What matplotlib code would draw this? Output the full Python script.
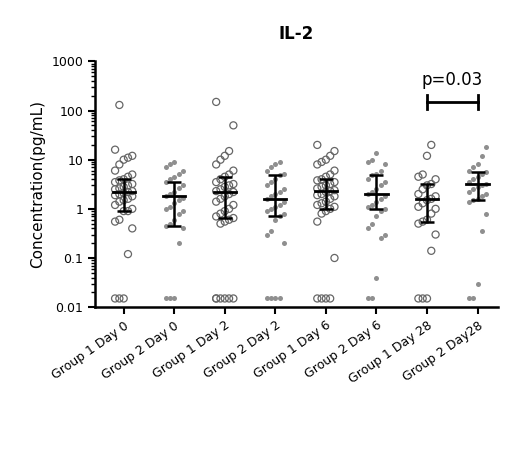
import numpy as np
import matplotlib.pyplot as plt

labels = ["Group 1 Day 0", "Group 2 Day 0", "Group 1 Day 2", "Group 2 Day 2",
          "Group 1 Day 6", "Group 2 Day 6", "Group 1 Day 28", "Group 2 Day28"]
values = [
    [130, 16, 12, 11, 10, 8, 6, 5, 4.5, 4, 3.8, 3.5, 3.2, 3, 2.8, 2.6, 2.5, 2.3, 2.2, 2.1, 2, 1.9,
     1.8, 1.6, 1.5, 1.4, 1.2, 1.0, 0.9, 0.9, 0.6, 0.55, 0.4, 0.12, 0.015, 0.015, 0.015],
    [9, 8, 7, 6, 5, 4.5, 4, 3.5, 3, 2.6, 2.2, 2, 1.8, 1.7, 1.5, 1.3, 1.1, 1, 0.9, 0.8, 0.6,
     0.5, 0.45, 0.4, 0.2, 0.015, 0.015, 0.015],
    [150, 50, 15, 12, 10, 8, 6, 5, 4.5, 4, 3.5, 3.2, 3, 2.8, 2.5, 2.3, 2.2, 2, 1.8, 1.6, 1.4,
     1.2, 1, 0.9, 0.8, 0.7, 0.65, 0.6, 0.55, 0.5, 0.015, 0.015, 0.015, 0.015, 0.015, 0.015],
    [9, 8, 7, 6, 5, 4.8, 4, 3.5, 3, 2.5, 2.2, 2, 1.8, 1.6, 1.4, 1.2, 1.1, 1, 0.9, 0.8, 0.7,
     0.6, 0.35, 0.3, 0.2, 0.015, 0.015, 0.015, 0.015],
    [20, 15, 12, 10, 9, 8, 6, 5, 4.5, 4, 3.8, 3.5, 3.2, 3, 2.8, 2.6, 2.4, 2.3, 2.2, 2, 1.9,
     1.8, 1.6, 1.4, 1.3, 1.2, 1.1, 1, 0.9, 0.8, 0.55, 0.1, 0.015, 0.015, 0.015, 0.015],
    [14, 10, 9, 8, 6, 5, 4.8, 4, 3.5, 3, 2.5, 2.2, 2, 1.8, 1.6, 1.4, 1.2, 1.1, 1, 0.9, 0.7,
     0.5, 0.4, 0.3, 0.25, 0.04, 0.015, 0.015],
    [20, 12, 5, 4.5, 4, 3.2, 3, 2.5, 2, 1.8, 1.6, 1.5, 1.3, 1.1, 1, 0.8, 0.6, 0.55, 0.5,
     0.3, 0.14, 0.015, 0.015, 0.015],
    [18, 12, 8, 7, 6, 5.5, 5, 4.5, 4, 3.5, 3.2, 3, 2.8, 2.5, 2.2, 2, 1.8, 1.6, 1.5, 1.4,
     0.8, 0.35, 0.03, 0.015, 0.015],
]
medians = [2.2, 1.8, 2.2, 1.6, 2.3, 2.0, 1.6, 3.2]
q1 = [0.9, 0.45, 0.65, 0.7, 1.0, 1.0, 0.55, 1.5]
q3 = [4.0, 3.5, 4.5, 4.8, 4.0, 4.8, 3.2, 5.5]

fig = plt.figure(figsize=(5.1, 4.55), dpi=100)
ax = fig.add_axes([0.186, 0.325, 0.79, 0.54])

for i, vals in enumerate(values):
    vals = np.array(vals)
    # simple deterministic spread so points don't stack
    order = np.argsort(np.argsort(vals))
    off = ((order % 5) - 2) * 0.085
    if i % 2 == 0:
        ax.scatter(i + off, vals, s=26, facecolors="none", edgecolors="#666666", linewidths=0.9, zorder=2)
    else:
        ax.scatter(i + off, vals, s=13, color="#8f8f8f", linewidths=0, zorder=2)
    ax.errorbar(i, medians[i], yerr=[[medians[i] - q1[i]], [q3[i] - medians[i]]],
                color="black", capsize=5, lw=1.8, capthick=1.8, zorder=3)
    ax.plot([i - 0.22, i + 0.22], [medians[i]] * 2, color="black", lw=2, zorder=3)

ax.set_yscale("log")
ax.set_ylim(0.01, 1000)
ax.set_xlim(-0.57, 7.4)
ax.set_yticks([0.01, 0.1, 1, 10, 100, 1000])
ax.set_yticklabels(["0.01", "0.1", "1", "10", "100", "1000"], fontsize=9)
ax.set_xticks(range(8))
ax.set_xticklabels(labels, rotation=35, ha="right", rotation_mode="anchor", fontsize=9)
ax.tick_params(axis="y", which="major", width=1.5, length=5)
ax.tick_params(axis="y", which="minor", width=1, length=3)
ax.tick_params(axis="x", width=1.5, length=5)
for s in ["top", "right"]:
    ax.spines[s].set_visible(False)
ax.spines["left"].set_linewidth(1.8)
ax.spines["bottom"].set_linewidth(1.8)
ax.set_ylabel("Concentration(pg/mL)", fontsize=11)
ax.set_title("IL-2", fontsize=12, fontweight="bold", pad=16)

ax.plot([6, 7], [150, 150], color="black", lw=2)
ax.plot([6, 6], [110, 205], color="black", lw=2)
ax.plot([7, 7], [110, 205], color="black", lw=2)
ax.text(6.5, 420, "p=0.03", ha="center", va="center", fontsize=12)

fig.savefig("out.png", dpi=100)
